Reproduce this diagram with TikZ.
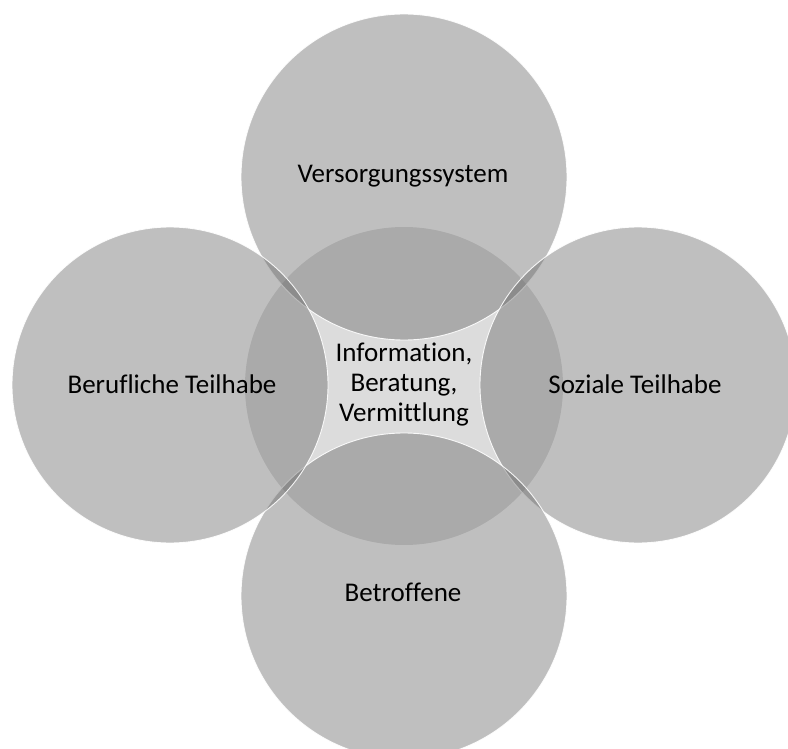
\documentclass[tikz,border=0pt]{standalone}
\usepackage{fontspec}
\setmainfont{Carlito}[Ligatures=NoCommon]
\definecolor{centerfill}{RGB}{220,220,220}
\definecolor{outerfill}{RGB}{96,96,96}
\tikzset{
  centercircle/.style={circle, fill=centerfill, inner sep=0pt, minimum size=318pt},
  outercircle/.style={circle, fill=outerfill, fill opacity=0.4, draw=white, draw opacity=0.9, line width=0.9pt, inner sep=0pt},
  lbl/.style={font=\fontsize{27}{30}\selectfont, text=black, align=center, inner sep=0pt}
}
\begin{document}
\begin{tikzpicture}[x=1pt,y=-1pt]
  \useasboundingbox (0,0) rectangle (788,749);
  \clip (0,0) rectangle (788,749);
  \node[centercircle] (center) at (404,386) {};
  \node[outercircle, minimum size=326pt] (top) at (404,177) {};
  \node[outercircle, minimum size=316pt] (right) at (638,385) {};
  \node[outercircle, minimum size=326pt] (bottom) at (404,596) {};
  \node[outercircle, minimum size=316pt] (left) at (170,385) {};
  \node[lbl] (ltop) at (403,176) {Versorgungssystem};
  \node[lbl] (lleft) at (172,384) {Berufliche Teilhabe};
  \node[lbl] (lright) at (635,384) {Soziale Teilhabe};
  \node[lbl] (lbottom) at (403,592) {Betroffene};
  \node[lbl] (lcenter) at (404,385) {Information,\\Beratung,\\Vermittlung};
\end{tikzpicture}
\end{document}
